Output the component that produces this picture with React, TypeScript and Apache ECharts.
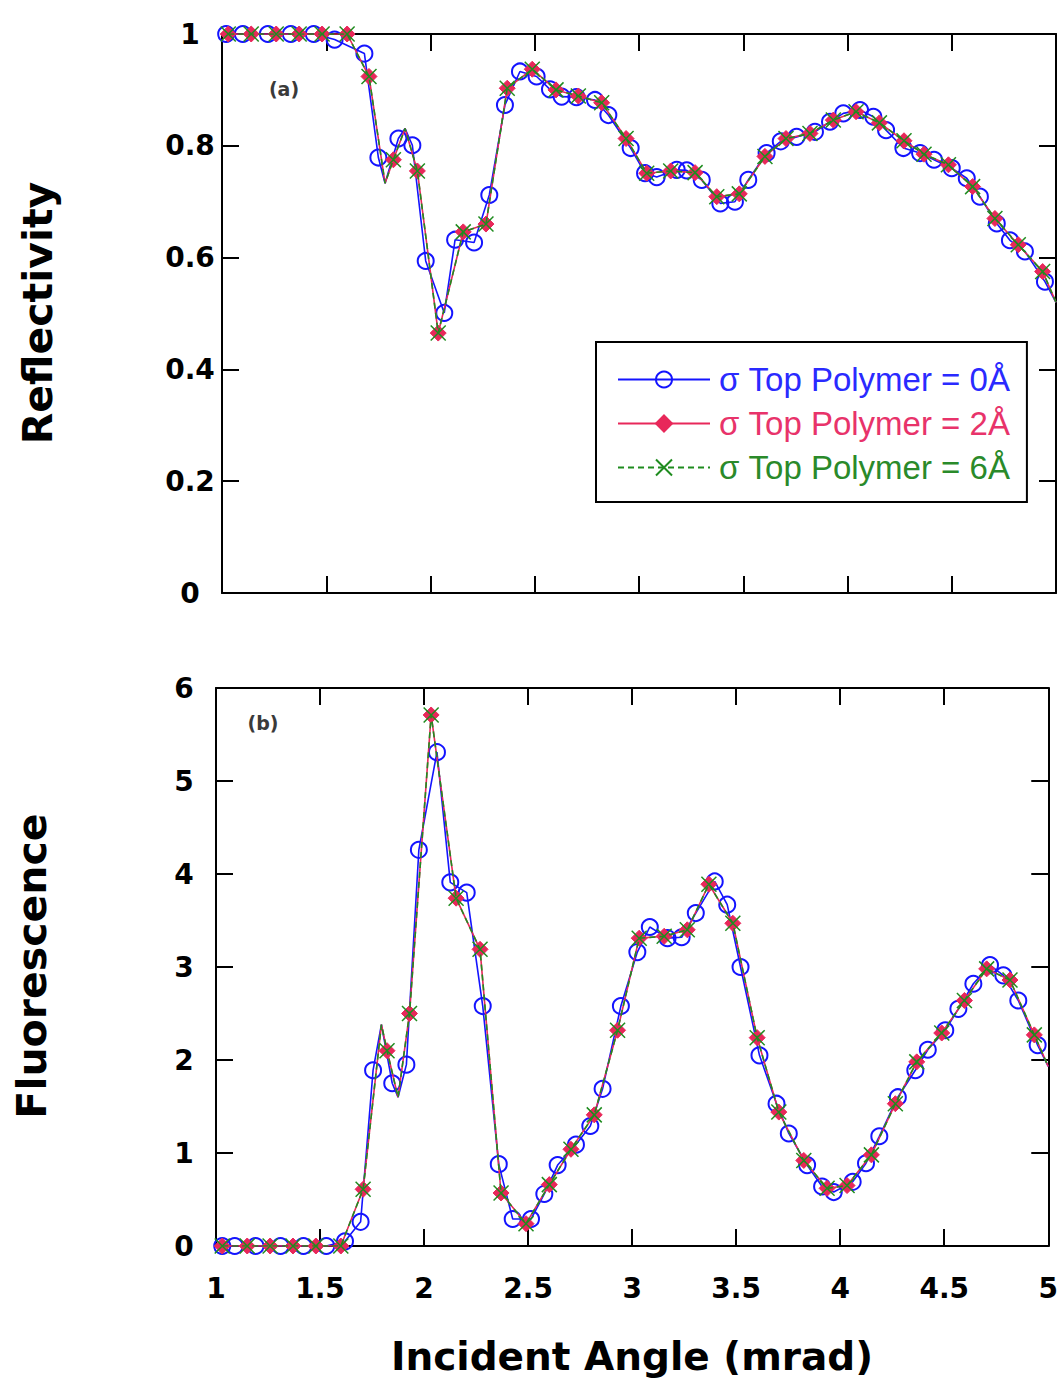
import React, { useEffect, useRef } from "react";
import * as echarts from "echarts";

// ---------- data ----------
const seriesNames = ["σ Top Polymer = 0Å", "σ Top Polymer = 2Å", "σ Top Polymer = 6Å"];
const xTickMin = 1;
const xTickMax = 5;
const xTickStep = 0.5;

// (a) Reflectivity
const reflBlueX = [1.02, 1.1, 1.22, 1.33, 1.44, 1.54, 1.683, 1.75, 1.846, 1.913, 1.977, 2.066, 2.118, 2.209, 2.282, 2.357, 2.429, 2.509, 2.573, 2.629, 2.7, 2.789, 2.853, 2.96, 3.029, 3.085, 3.181, 3.229, 3.301, 3.39, 3.46, 3.524, 3.612, 3.68, 3.756, 3.844, 3.916, 3.98, 4.06, 4.124, 4.185, 4.268, 4.348, 4.415, 4.5, 4.572, 4.635, 4.716, 4.779, 4.851, 4.947];
const reflBlueY = [1, 1, 1, 1, 1, 0.99, 0.965, 0.779, 0.813, 0.801, 0.594, 0.501, 0.632, 0.627, 0.712, 0.873, 0.933, 0.924, 0.901, 0.888, 0.887, 0.882, 0.855, 0.796, 0.751, 0.744, 0.757, 0.756, 0.739, 0.697, 0.7, 0.739, 0.787, 0.808, 0.816, 0.825, 0.843, 0.858, 0.864, 0.852, 0.828, 0.796, 0.787, 0.775, 0.76, 0.742, 0.709, 0.661, 0.631, 0.611, 0.557];
const reflRedX = [1.03, 1.14, 1.26, 1.37, 1.48, 1.6, 1.705, 1.822, 1.937, 2.037, 2.157, 2.266, 2.368, 2.488, 2.602, 2.709, 2.821, 2.938, 3.037, 3.152, 3.269, 3.373, 3.481, 3.604, 3.705, 3.82, 3.932, 4.041, 4.153, 4.271, 4.367, 4.484, 4.6, 4.707, 4.819, 4.936];
const reflRedY = [1, 1, 1, 1, 1, 1, 0.924, 0.775, 0.755, 0.465, 0.646, 0.66, 0.903, 0.937, 0.9, 0.889, 0.877, 0.813, 0.751, 0.755, 0.752, 0.709, 0.714, 0.781, 0.813, 0.822, 0.846, 0.861, 0.841, 0.809, 0.785, 0.766, 0.727, 0.67, 0.623, 0.575];
const reflGreenX = reflRedX;
const reflGreenY = reflRedY;
// line vertices drawn without a marker
const reflBendX = [1.782, 1.878, 5.0];
const reflBendY = [0.733, 0.831, 0.52];

// (b) Fluorescence
const fluoBlueX = [1.03, 1.09, 1.19, 1.31, 1.42, 1.53, 1.62, 1.695, 1.755, 1.847, 1.915, 1.975, 2.062, 2.126, 2.205, 2.282, 2.359, 2.426, 2.514, 2.578, 2.642, 2.73, 2.799, 2.858, 2.946, 3.025, 3.085, 3.17, 3.238, 3.306, 3.397, 3.457, 3.521, 3.612, 3.694, 3.753, 3.841, 3.913, 3.969, 4.06, 4.124, 4.188, 4.277, 4.361, 4.421, 4.505, 4.568, 4.64, 4.72, 4.784, 4.856, 4.949];
const fluoBlueY = [0, 0, 0, 0, 0, 0, 0.05, 0.26, 1.89, 1.75, 1.95, 4.26, 5.31, 3.91, 3.8, 2.58, 0.88, 0.29, 0.29, 0.56, 0.87, 1.09, 1.29, 1.69, 2.58, 3.16, 3.43, 3.31, 3.32, 3.58, 3.92, 3.67, 3.0, 2.05, 1.53, 1.21, 0.87, 0.64, 0.58, 0.69, 0.89, 1.18, 1.6, 1.89, 2.11, 2.32, 2.55, 2.82, 3.02, 2.91, 2.64, 2.16];
const fluoRedX = [1.03, 1.15, 1.26, 1.37, 1.48, 1.6, 1.707, 1.822, 1.93, 2.034, 2.154, 2.269, 2.37, 2.49, 2.602, 2.706, 2.818, 2.93, 3.034, 3.154, 3.265, 3.369, 3.484, 3.601, 3.705, 3.825, 3.937, 4.033, 4.15, 4.265, 4.368, 4.488, 4.597, 4.704, 4.816, 4.933];
const fluoRedY = [0, 0, 0, 0, 0, 0, 0.61, 2.1, 2.5, 5.71, 3.74, 3.19, 0.57, 0.24, 0.66, 1.04, 1.41, 2.32, 3.31, 3.33, 3.4, 3.89, 3.47, 2.24, 1.44, 0.92, 0.62, 0.65, 0.98, 1.53, 1.98, 2.29, 2.64, 2.98, 2.86, 2.27];
const fluoGreenX = fluoRedX;
const fluoGreenY = fluoRedY;
const fluoBendX = [1.795, 1.875, 5.0];
const fluoBendY = [2.38, 1.6, 1.93];

const reflAxis = { min: 0, max: 1, step: 0.2 };
const fluoAxis = { min: 0, max: 6, step: 1 };
const panelLabels = ["(a)", "(b)"];
const yTitles = ["Reflectivity", "Fluorescence"];
const xTitle = "Incident Angle (mrad)";

// ---------- styling ----------
const BLUE = "#1414ff";
const RED = "#e8285a";
const GREEN = "#1f8c1f";
const TICK_FONT = "DejaVu Sans";
const X_MARK = "path://M0,0L10,10M10,0L0,10";

function build(xs: number[], ys: number[], bx: number[], by: number[]) {
  const pts: any[] = xs.map((x, i) => ({ value: [x, ys[i]] }));
  bx.forEach((x, i) => pts.push({ value: [x, by[i]], symbol: "none" }));
  pts.sort((a, b) => a.value[0] - b.value[0]);
  return pts;
}

function makeX(gridIndex: number, position: string, labels: boolean) {
  return {
    type: "value",
    gridIndex,
    position,
    min: xTickMin,
    max: xTickMax,
    interval: xTickStep,
    axisLine: { show: true, onZero: false, lineStyle: { color: "#000", width: 2 } },
    axisTick: { show: true, inside: true, length: 17, lineStyle: { color: "#000", width: 2 } },
    axisLabel: {
      show: labels,
      margin: 28,
      color: "#000",
      fontFamily: TICK_FONT,
      fontWeight: "bold",
      fontSize: 28,
    },
    splitLine: { show: false },
  };
}

function makeY(gridIndex: number, position: string, labels: boolean, ax: { min: number; max: number; step: number }) {
  return {
    type: "value",
    gridIndex,
    position,
    min: ax.min,
    max: ax.max,
    interval: ax.step,
    axisLine: { show: true, onZero: false, lineStyle: { color: "#000", width: 2 } },
    axisTick: { show: true, inside: true, length: 17, lineStyle: { color: "#000", width: 2 } },
    axisLabel: {
      show: labels,
      margin: 32,
      align: "center",
      color: "#000",
      fontFamily: TICK_FONT,
      fontWeight: "bold",
      fontSize: 28,
    },
    splitLine: { show: false },
  };
}

function seriesSet(xi: number, yi: number, b: [number[], number[]], r: [number[], number[]], g: [number[], number[]], bend: [number[], number[]]) {
  return [
    {
      name: seriesNames[0],
      type: "line",
      xAxisIndex: xi,
      yAxisIndex: yi,
      data: build(b[0], b[1], bend[0], bend[1]),
      symbol: "circle",
      symbolSize: 16,
      lineStyle: { color: BLUE, width: 1.6 },
      itemStyle: { color: "rgba(255,255,255,0)", borderColor: BLUE, borderWidth: 2 },
      z: 2,
    },
    {
      name: seriesNames[1],
      type: "line",
      xAxisIndex: xi,
      yAxisIndex: yi,
      data: build(r[0], r[1], bend[0], bend[1]),
      symbol: "diamond",
      symbolSize: 16,
      lineStyle: { color: RED, width: 1.6 },
      itemStyle: { color: RED, borderColor: RED, borderWidth: 1 },
      z: 3,
    },
    {
      name: seriesNames[2],
      type: "line",
      xAxisIndex: xi,
      yAxisIndex: yi,
      data: build(g[0], g[1], bend[0], bend[1]),
      symbol: X_MARK,
      symbolSize: 15,
      lineStyle: { color: GREEN, width: 1.6, type: [6, 4] },
      itemStyle: { color: "rgba(255,255,255,0)", borderColor: GREEN, borderWidth: 1.5 },
      z: 4,
    },
  ];
}

export default function App() {
  const ref = useRef<HTMLDivElement>(null);
  useEffect(() => {
    if (!ref.current) return;
    const chart = echarts.init(ref.current, undefined, { renderer: "svg" });
    const option: any = {
      animation: false,
      backgroundColor: "#fff",
      grid: [
        { left: 222, top: 34, width: 834, height: 559 },
        { left: 216, top: 688, width: 834, height: 558 },
      ],
      xAxis: [makeX(0, "bottom", false), makeX(0, "top", false), makeX(1, "bottom", true), makeX(1, "top", false)],
      yAxis: [
        makeY(0, "left", true, reflAxis),
        makeY(0, "right", false, reflAxis),
        makeY(1, "left", true, fluoAxis),
        makeY(1, "right", false, fluoAxis),
      ],
      legend: {
        orient: "vertical",
        left: 596,
        top: 342,
        align: "left",
        padding: [21, 17, 18, 21],
        itemWidth: 92,
        itemHeight: 20,
        itemGap: 11,
        borderColor: "#000",
        borderWidth: 2,
        backgroundColor: "#fff",
        selectedMode: false,
        textStyle: { fontFamily: "Liberation Sans, Arial", fontSize: 33, lineHeight: 32, padding: [0, 0, 0, 4] },
        data: [
          { name: seriesNames[0], textStyle: { color: "#2a2aff" } },
          { name: seriesNames[1], textStyle: { color: "#e8336a" } },
          { name: seriesNames[2], textStyle: { color: "#2a8a2a" } },
        ],
      },
      graphic: [
        { type: "text", x: 284, y: 89, style: { text: panelLabels[0], fill: "#3a3a3a", font: "bold 19px DejaVu Sans", align: "center", verticalAlign: "middle" } },
        { type: "text", x: 263, y: 723, style: { text: panelLabels[1], fill: "#3a3a3a", font: "bold 19px DejaVu Sans", align: "center", verticalAlign: "middle" } },
        { type: "text", x: 38, y: 313, rotation: Math.PI / 2, style: { text: yTitles[0], fill: "#000", font: "bold 41px DejaVu Sans", align: "center", verticalAlign: "middle" } },
        { type: "text", x: 32, y: 966, rotation: Math.PI / 2, style: { text: yTitles[1], fill: "#000", font: "bold 41px DejaVu Sans", align: "center", verticalAlign: "middle" } },
        { type: "text", x: 632, y: 1356, style: { text: xTitle, fill: "#000", font: "bold 39px DejaVu Sans", align: "center", verticalAlign: "middle" } },
      ],
      series: [
        ...seriesSet(0, 0, [reflBlueX, reflBlueY], [reflRedX, reflRedY], [reflGreenX, reflGreenY], [reflBendX, reflBendY]),
        ...seriesSet(2, 2, [fluoBlueX, fluoBlueY], [fluoRedX, fluoRedY], [fluoGreenX, fluoGreenY], [fluoBendX, fluoBendY]),
      ],
    };
    chart.setOption(option);
    return () => chart.dispose();
  }, []);
  return <div ref={ref} style={{ position: "absolute", left: 0, top: 0, width: 1061, height: 1382 }} />;
}
